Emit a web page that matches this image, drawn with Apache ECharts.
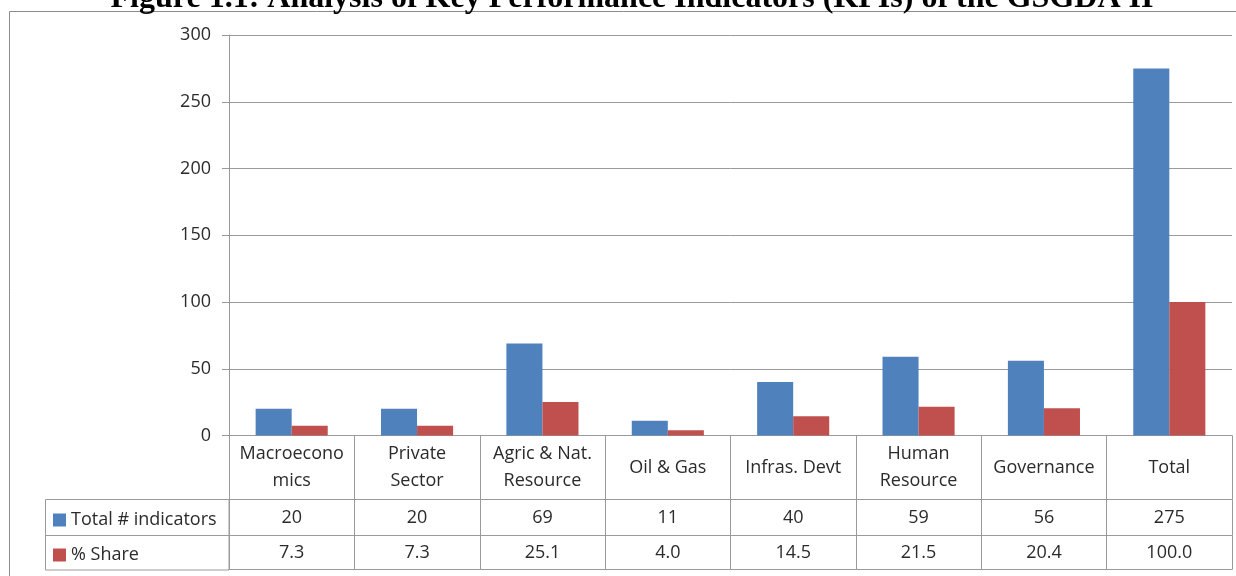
<!DOCTYPE html>
<html>
<head>
<meta charset="utf-8">
<script src="https://cdn.jsdelivr.net/npm/echarts@6/dist/echarts.min.js"></script>
<style>
  html, body { margin: 0; padding: 0; background: #fff; }
  #kpi { width: 1236px; height: 576px; }
</style>
</head>
<body>
<div id="kpi"></div>
<script>
var categories = ['Macroecono\nmics', 'Private\nSector', 'Agric & Nat.\nResource', 'Oil & Gas',
                  'Infras. Devt', 'Human\nResource', 'Governance', 'Total'];
var indicators = [20, 20, 69, 11, 40, 59, 56, 275];
var share = ['7.3', '7.3', '25.1', '4.0', '14.5', '21.5', '20.4', '100.0'];
var seriesNames = ['Total # indicators', '% Share'];
var yTicks = [0, 50, 100, 150, 200, 250, 300];

var FONT = 'Open Sans';
var FS = 18;
var LINE = '#9a9a9a';
var TXT = '#2b2b2b';

var kpiChart = echarts.init(document.getElementById('kpi'));

// extra x axes act as the rows of the data table under the plot
function tableRow(offset, tickLen, margin, labels) {
    return {
        type: 'category',
        data: categories,
        position: 'bottom',
        offset: offset,
        axisLine: { show: true, lineStyle: { color: LINE, width: 1 } },
        axisTick: { show: tickLen > 0, interval: 0, length: tickLen, lineStyle: { color: LINE } },
        axisLabel: {
            show: !!labels,
            interval: 0,
            margin: margin,
            verticalAlign: 'middle',
            fontFamily: FONT,
            fontSize: FS,
            color: TXT,
            formatter: function (v, i) { return labels ? String(labels[i]) : ''; }
        },
        splitLine: { show: false }
    };
}

option = {
    animation: false,
    textStyle: { fontFamily: FONT },
    grid: { left: 229, right: 4, top: 35, bottom: 140.5, containLabel: false },
    legend: {
        orient: 'vertical',
        left: 48,
        top: 506,
        itemWidth: 13,
        itemHeight: 13,
        itemGap: 17,
        icon: 'rect',
        textStyle: { fontFamily: FONT, fontSize: FS, lineHeight: 18, color: TXT },
        data: seriesNames
    },
    xAxis: [
        {
            type: 'category',
            data: categories,
            axisLine: { show: true, lineStyle: { color: LINE, width: 1 } },
            axisTick: { show: true, interval: 0, length: 64, lineStyle: { color: LINE } },
            axisLabel: {
                interval: 0,
                margin: 32,
                verticalAlign: 'middle',
                lineHeight: 27,
                fontFamily: FONT,
                fontSize: FS,
                color: TXT
            }
        },
        tableRow(64, 36, 18, indicators),
        tableRow(100, 34, 17, share),
        tableRow(134, 0, 0, null)
    ],
    yAxis: {
        type: 'value',
        min: 0,
        max: 300,
        interval: 50,
        axisLine: { show: true, lineStyle: { color: LINE, width: 1 } },
        axisTick: { show: true, length: 7, lineStyle: { color: LINE } },
        axisLabel: {
            margin: 18,
            fontFamily: FONT,
            fontSize: FS,
            color: TXT,
            formatter: function (v) { return yTicks.indexOf(v) >= 0 ? String(v) : ''; }
        },
        splitLine: { show: true, lineStyle: { color: LINE, width: 1 } }
    },
    series: [
        {
            name: seriesNames[0],
            type: 'bar',
            data: indicators,
            barGap: '0%',
            barCategoryGap: '42.5%',
            itemStyle: { color: '#4F81BD' }
        },
        {
            name: seriesNames[1],
            type: 'bar',
            data: share.map(Number),
            itemStyle: { color: '#C0504D' }
        }
    ],
    graphic: [
        {
            type: 'rect',
            silent: true,
            shape: { x: 9.5, y: 11.5, width: 1300, height: 700 },
            style: { fill: 'none', stroke: '#8c8c8c', lineWidth: 1 }
        },
        {
            type: 'rect',
            silent: true,
            shape: { x: 45.5, y: 499.5, width: 183.5, height: 70.5 },
            style: { fill: 'none', stroke: LINE, lineWidth: 1 }
        },
        {
            type: 'line',
            silent: true,
            shape: { x1: 45.5, y1: 535.5, x2: 229, y2: 535.5 },
            style: { stroke: LINE, lineWidth: 1 }
        },
        {
            type: 'text',
            silent: true,
            x: 632,
            y: 15,
            style: {
                text: 'Figure 1.1: Analysis of Key Performance Indicators (KPIs) of the GSGDA II',
                fontFamily: 'Liberation Serif',
                fontWeight: 'bold',
                fontSize: 32,
                fill: '#000',
                align: 'center',
                verticalAlign: 'bottom'
            }
        }
    ]
};
kpiChart.setOption(option);
window.addEventListener('resize', kpiChart.resize);
</script>
</body>
</html>
